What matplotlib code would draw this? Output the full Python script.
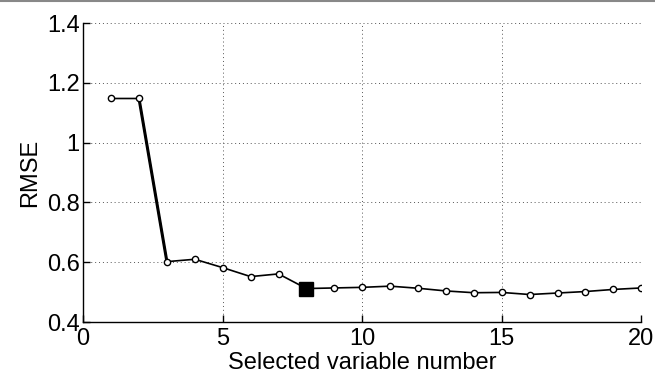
import matplotlib
matplotlib.use("Agg")
import matplotlib.pyplot as plt
from matplotlib.lines import Line2D

# number of selected variables vs RMSE
n_vars = [1, 2, 3, 4, 5, 6, 7, 8, 9, 10, 11, 12, 13, 14, 15, 16, 17, 18, 19, 20]
rmse = [1.148, 1.148, 0.602, 0.610, 0.582, 0.552, 0.561, 0.512, 0.514, 0.516,
        0.520, 0.513, 0.504, 0.498, 0.499, 0.492, 0.497, 0.502, 0.509, 0.514]
best_n = 8
best_rmse = 0.512

plt.rcParams['font.family'] = ['Liberation Sans', 'DejaVu Sans']

fig = plt.figure(figsize=(6.55, 3.74), dpi=100)
ax = fig.add_axes([0.127, 0.139, 0.852, 0.799])

# thicker drop between 2 and 3 variables
ax.plot(n_vars[1:3], rmse[1:3], '-', color='black', lw=2.2, zorder=2)
ax.plot(n_vars, rmse, '-o', color='black', lw=1.2, markersize=4.5,
        markerfacecolor='white', markeredgecolor='black', markeredgewidth=1.0, zorder=3)
ax.plot([best_n], [best_rmse], 's', color='black', markersize=10, zorder=4)

ax.set_xlim(0, 20)
ax.set_ylim(0.4, 1.4)
ax.set_xticks([0, 5, 10, 15, 20])
ax.set_yticks([0.4, 0.6, 0.8, 1.0, 1.2, 1.4])
ax.set_yticklabels(['0.4', '0.6', '0.8', '1', '1.2', '1.4'])
ax.grid(True, linestyle=(0, (1, 3)), color='#555555', linewidth=0.7)
ax.set_axisbelow(True)

for s in ['top', 'right']:
    ax.spines[s].set_visible(False)
for s in ['left', 'bottom']:
    ax.spines[s].set_linewidth(1.0)
ax.tick_params(direction='in', length=5, width=1.0, labelsize=17)
ax.tick_params(axis='x', pad=4.5)
ax.tick_params(axis='y', pad=2.5)

ax.set_xlabel('Selected variable number', fontsize=17, labelpad=1.5)
ax.set_ylabel('RMSE', fontsize=17, labelpad=4)

# gray rule across the top of the image
fig.add_artist(Line2D([0, 1], [0.997, 0.997], transform=fig.transFigure,
                      color='#888888', lw=1.5))

fig.savefig('out.png', dpi=100)
